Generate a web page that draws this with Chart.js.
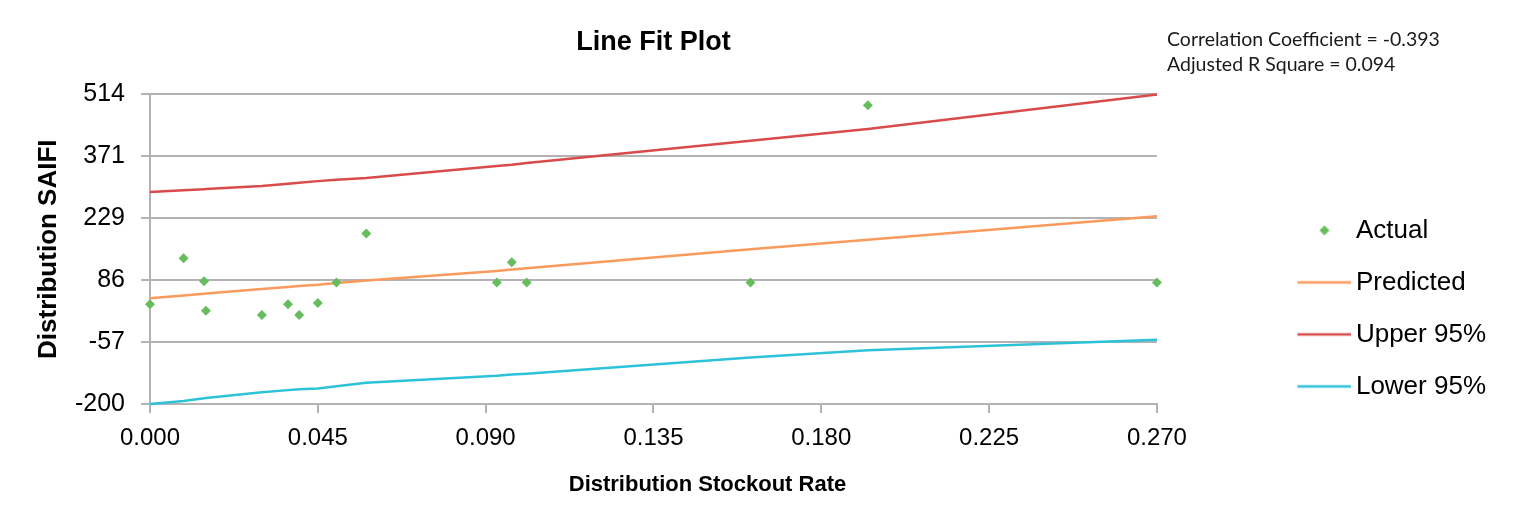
<!DOCTYPE html>
<html><head><meta charset="utf-8">
<script src="https://cdn.jsdelivr.net/npm/chart.js@4/dist/chart.umd.min.js"></script>
<style>html,body{margin:0;padding:0;background:#fff;} canvas{display:block;}</style>
</head><body>
<canvas id="c" width="1536" height="523"></canvas>
<script>
const stockoutRate = [0, 0.009, 0.0145, 0.015, 0.030, 0.037, 0.040, 0.045, 0.050, 0.058, 0.093, 0.097, 0.101, 0.161, 0.1925, 0.270];
const actualSAIFI = [30, 136, 83, 15, 5, 30, 5, 33, 80, 193, 80, 127, 80, 80, 489, 80];
const predictedSAIFI = [44, 50, 54, 55, 65, 70, 72, 75, 79, 85, 107, 110, 113, 157, 179, 233];
const upper95 = [289, 293, 295, 296, 303, 308, 310, 314, 317, 321, 349, 352, 356, 407, 434, 514];
const lower95 = [-200, -193, -187, -186, -173, -168, -166, -164, -159, -151, -135, -132, -130, -93, -76, -52];
const xTicks = [0, 0.045, 0.09, 0.135, 0.18, 0.225, 0.27];
const yTicks = [-200, -57, 86, 229, 371, 514];
const seriesNames = ['Actual', 'Predicted', 'Upper 95%', 'Lower 95%'];
const seriesColors = ['#66bd5d', '#fa9a5c', '#d94b4b', '#2cc3d8'];
const chartTitle = 'Line Fit Plot';
const xAxisTitle = 'Distribution Stockout Rate';
const yAxisTitle = 'Distribution SAIFI';
const annotationLines = ['Correlation Coefficient = -0.393', 'Adjusted R Square = 0.094'];

const FONT = '"Liberation Sans", Arial, Helvetica, sans-serif';
const GRID = '#b3b3b3';
const BOXW = 160;
const ICONW = BOXW + 17;

function pts(arr) { return stockoutRate.map((x, i) => ({x: x, y: arr[i]})); }

function makeIcon(i) {
  const c = document.createElement('canvas');
  c.width = ICONW;
  if (i === 0) {
    c.height = 12;
    const g = c.getContext('2d');
    const cx = ICONW - 27, cy = 6, r = 5;
    g.fillStyle = seriesColors[0];
    g.beginPath();
    g.moveTo(cx - r, cy); g.lineTo(cx, cy - r); g.lineTo(cx + r, cy); g.lineTo(cx, cy + r);
    g.closePath(); g.fill();
  } else {
    c.height = 6;
    const g = c.getContext('2d');
    g.strokeStyle = seriesColors[i];
    g.lineWidth = 2.5;
    g.beginPath(); g.moveTo(ICONW - 54, 3); g.lineTo(ICONW, 3); g.stroke();
  }
  return c;
}
const legendIcons = seriesNames.map((n, i) => makeIcon(i));

const textPlugin = {
  id: 'extraText',
  afterDraw(chart) {
    const {ctx, chartArea} = chart;
    ctx.save();
    ctx.fillStyle = '#000';
    ctx.font = 'bold 22px ' + FONT;
    ctx.textAlign = 'center';
    ctx.textBaseline = 'middle';
    ctx.fillText(xAxisTitle, (chartArea.left + chartArea.right) / 2 + 54, 485);
    ctx.font = '19.5px Lato, "Open Sans", sans-serif';
    ctx.textAlign = 'left';
    ctx.textBaseline = 'alphabetic';
    ctx.fillStyle = '#1a1a1a';
    annotationLines.forEach((t, i) => ctx.fillText(t, 1167, 46 + i * 24.5));
    ctx.restore();
  }
};

const lineDs = (i, arr) => ({
  label: seriesNames[i], data: pts(arr), showLine: true, pointRadius: 0, pointHoverRadius: 0,
  borderColor: seriesColors[i], backgroundColor: seriesColors[i], borderWidth: 2.5, fill: false, clip: false
});

new Chart(document.getElementById('c'), {
  type: 'scatter',
  data: {
    datasets: [
      {label: seriesNames[0], data: pts(actualSAIFI), showLine: false, pointStyle: 'rectRot',
       pointRadius: 5, pointHoverRadius: 5, backgroundColor: seriesColors[0], borderColor: seriesColors[0],
       pointBorderWidth: 0, clip: false},
      lineDs(1, predictedSAIFI),
      lineDs(2, upper95),
      lineDs(3, lower95)
    ]
  },
  options: {
    responsive: false, animation: false, devicePixelRatio: 1,
    layout: {padding: {top: 20, right: 40, bottom: 0, left: 0}},
    plugins: {
      title: {display: true, text: chartTitle, fullSize: false, color: '#000',
              font: {family: FONT, size: 27, weight: 'bold'}, padding: {top: 6, bottom: 36}},
      legend: {
        position: 'right', align: 'start', fullSize: true,
        title: {display: true, text: '', font: {size: 12}, padding: {top: 0, bottom: 157}},
        labels: {
          usePointStyle: true, pointStyleWidth: BOXW, padding: 26, color: '#000',
          font: {family: FONT, size: 26},
          generateLabels: (chart) => {
            const items = Chart.defaults.plugins.legend.labels.generateLabels(chart);
            items.forEach((it, i) => { it.pointStyle = legendIcons[i]; it.fontColor = '#000'; });
            return items;
          }
        }
      },
      tooltip: {enabled: false}
    },
    scales: {
      x: {
        type: 'linear', min: 0, max: 0.27,
        afterBuildTicks: (s) => { s.ticks = xTicks.map(v => ({value: v})); },
        afterFit: (s) => { s.height = 119; },
        ticks: {callback: (v) => Number(v).toFixed(3), color: '#000', font: {family: FONT, size: 24},
                padding: 11, maxRotation: 0, autoSkip: false},
        grid: {drawOnChartArea: false, drawTicks: true, tickLength: 9, color: GRID, lineWidth: 2},
        border: {color: GRID, width: 2}
      },
      y: {
        type: 'linear', min: -200, max: 514,
        afterBuildTicks: (s) => { s.ticks = yTicks.map(v => ({value: v})); },
        afterFit: (s) => { s.width = 150; },
        ticks: {callback: (v) => String(v), color: '#000', font: {family: FONT, size: 25}, padding: 16, autoSkip: false},
        grid: {color: GRID, lineWidth: 2, tickLength: 9},
        border: {color: GRID, width: 2},
        title: {display: true, text: yAxisTitle, color: '#000', font: {family: FONT, size: 26, weight: 'bold'},
                padding: {top: 33, bottom: 0}}
      }
    }
  },
  plugins: [textPlugin]
});
</script>
</body></html>
